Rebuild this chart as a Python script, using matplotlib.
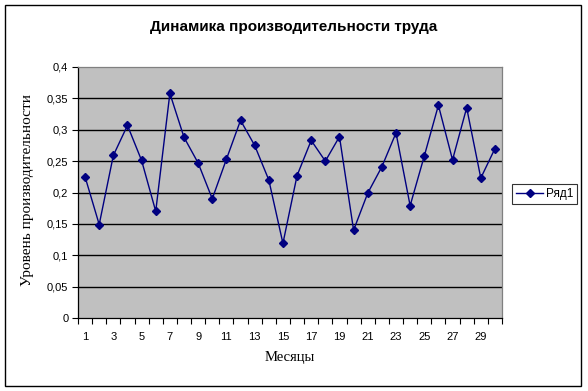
import matplotlib
matplotlib.use("Agg")
import matplotlib.pyplot as plt
from matplotlib.patches import Rectangle
from matplotlib.ticker import FixedLocator, FuncFormatter

months = list(range(1, 31))
productivity = [
    0.225, 0.149, 0.259, 0.307, 0.251, 0.170, 0.358, 0.288, 0.247, 0.190,
    0.253, 0.315, 0.275, 0.220, 0.119, 0.227, 0.283, 0.250, 0.289, 0.140,
    0.199, 0.241, 0.295, 0.179, 0.258, 0.339, 0.252, 0.335, 0.223, 0.270,
]
x_labels = [str(m) for m in range(1, 30, 2)]
y_ticks = [0, 0.05, 0.1, 0.15, 0.2, 0.25, 0.3, 0.35, 0.4]

W, H = 588, 391
fig = plt.figure(figsize=(W / 100, H / 100), dpi=100)
fig.patch.set_facecolor("white")
fig.patches.append(Rectangle((5 / W, 5 / H), 576 / W, 381 / H, transform=fig.transFigure,
                             fill=False, edgecolor="black", linewidth=1.0))

ax = fig.add_axes([78 / W, (H - 318) / H, 424 / W, 251 / H])
ax.set_facecolor("#c0c0c0")

for y in y_ticks[1:-1]:
    ax.axhline(y, color="black", linewidth=1.0, zorder=1)

line, = ax.plot(months, productivity, color="#000080", linewidth=1.0,
                marker="D", markersize=4.5, markerfacecolor="#000080",
                markeredgecolor="#000080", zorder=3, label="Ряд1")

ax.set_xlim(0.5, 30.5)
ax.set_ylim(0, 0.4)

ax.xaxis.set_major_locator(FixedLocator([i + 0.5 for i in range(0, 31)]))
ax.xaxis.set_minor_locator(FixedLocator(list(range(1, 30, 2))))
ax.set_xticklabels([])
ax.set_xticklabels(x_labels, minor=True)
ax.tick_params(axis="x", which="major", direction="out", length=4, width=0.8, color="black")
ax.tick_params(axis="x", which="minor", length=0, pad=10)

ax.set_yticks(y_ticks)
ax.yaxis.set_major_formatter(FuncFormatter(lambda v, p: ("%g" % round(v, 2)).replace(".", ",")))
ax.tick_params(axis="y", direction="out", length=4, width=0.8, color="black", pad=3)

for lab in ax.get_xticklabels(minor=True) + ax.get_yticklabels():
    lab.set_fontfamily("Liberation Sans")
    lab.set_fontsize(8)

ax.spines["left"].set_color("black")
ax.spines["bottom"].set_color("black")
ax.spines["top"].set_color("#808080")
ax.spines["right"].set_color("#808080")
for s in ax.spines.values():
    s.set_linewidth(0.9)

fig.text(0.5, 1 - 27 / H, "Динамика производительности труда", ha="center", va="center",
         fontfamily="Liberation Sans", fontweight="bold", fontsize=11)
fig.text(290 / W, 1 - 357 / H, "Месяцы", ha="center", va="center",
         fontfamily="Liberation Serif", fontsize=10.5)
fig.text(28 / W, 1 - 190 / H, "Уровень производительности", ha="center", va="center",
         rotation=90, fontfamily="Liberation Serif", fontsize=11)

leg = fig.legend(handles=[line], loc="center left", bbox_to_anchor=(512 / W, 1 - 194 / H),
                 prop={"family": "Liberation Sans", "size": 8.5}, frameon=True, fancybox=False,
                 handlelength=2.3, handletextpad=0.2, borderpad=0.35, borderaxespad=0)
leg.get_frame().set_edgecolor("black")
leg.get_frame().set_linewidth(0.8)

fig.savefig("out.png", dpi=100)
